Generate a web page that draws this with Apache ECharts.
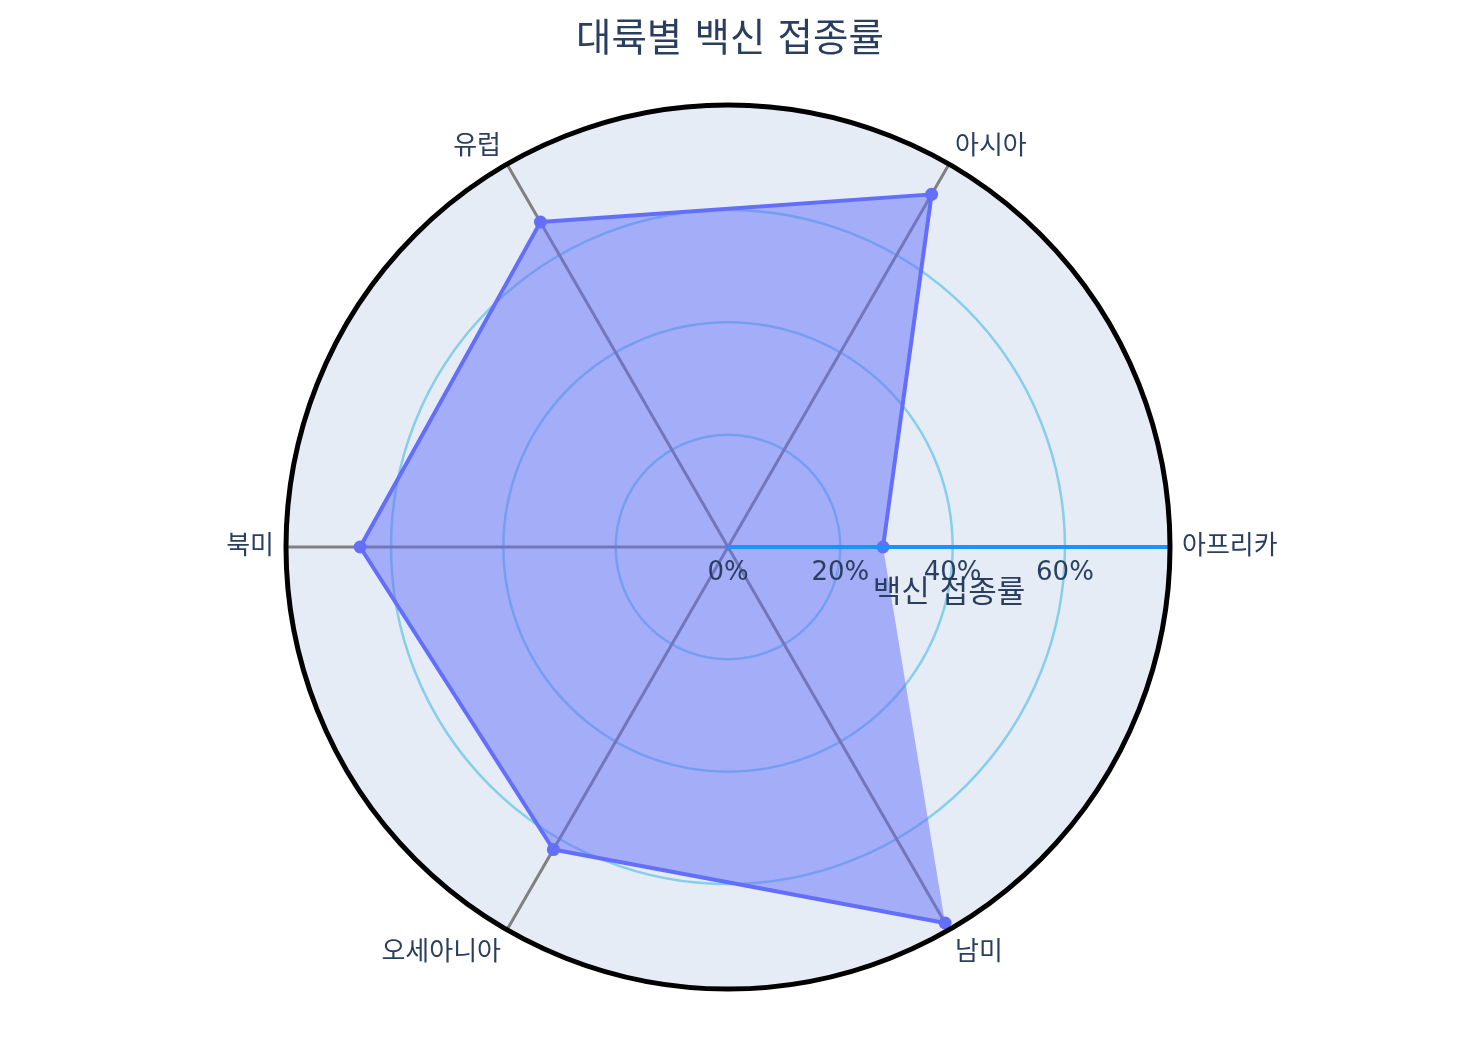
<!DOCTYPE html>
<html><head><meta charset="utf-8">
<script src="https://cdn.jsdelivr.net/npm/echarts@6/dist/echarts.min.js"></script>
<style>html,body{margin:0;padding:0;background:#fff}#c{width:1470px;height:1053px}</style>
</head><body><div id="c"></div>
<script>
const categories = ['아프리카', '아시아', '유럽', '북미', '오세아니아', '남미'];
const angles = [0, 60, 120, 180, 240, 300];
const vaccinationRates = [27.6, 72.5, 66.8, 65.5, 62.2, 77.3];
const radialTicks = [0, 20, 40, 60];
const radialMax = 78.7;
const titleText = '대륙별 백신 접종률';
const radialTitle = '백신 접종률';

const FONT = '"DejaVu Sans", "Noto Sans CJK KR", sans-serif';
const TXT = '#2a3f5f';
const points = vaccinationRates.map((v, i) => [v, angles[i]]);

const chart = echarts.init(document.getElementById('c'), null, { renderer: 'canvas' });
const P = { center: [728, 547], radius: 442 };
const hidden = { axisLine: { show: false }, axisTick: { show: false }, axisLabel: { show: false }, splitLine: { show: false } };
const angleBase = { type: 'value', min: 0, max: 360, interval: 60, startAngle: 0, clockwise: false };
const radBase = { type: 'value', min: 0, max: radialMax, interval: 20 };

function angleLabel(v) {
  const i = angles.indexOf(v);
  if (i < 0 || v >= 360) return '';
  if (v % 180 === 0) return '{s|' + categories[i] + '}';
  return (v < 180 ? '{u|' : '{d|') + categories[i] + '}';
}

const labelFont = { fontFamily: FONT, fontSize: 26, color: TXT };

const option = {
  backgroundColor: '#fff',
  animation: false,
  title: { text: titleText, left: 571, top: 17, textStyle: { fontFamily: FONT, fontSize: 38.5, fontWeight: 'normal', color: TXT } },
  polar: [Object.assign({}, P), Object.assign({}, P), Object.assign({}, P)],
  angleAxis: [
    Object.assign({}, angleBase, hidden, { polarIndex: 0, z: 0, splitArea: { show: true, areaStyle: { color: ['#E5ECF6'] } } }),
    Object.assign({}, angleBase, hidden, { polarIndex: 1, z: 1, splitLine: { show: true, lineStyle: { color: '#808080', width: 3 } } }),
    Object.assign({}, angleBase, hidden, {
      polarIndex: 2, z: 10,
      axisLine: { show: true, lineStyle: { color: '#000', width: 5 } },
      axisLabel: {
        show: true, margin: 12, showMaxLabel: false,
        formatter: angleLabel,
        rich: {
          s: Object.assign({}, labelFont),
          u: Object.assign({}, labelFont, { lineHeight: 14 }),
          d: Object.assign({}, labelFont)
        },
        fontFamily: FONT, fontSize: 26, color: TXT
      }
    })
  ],
  radiusAxis: [
    Object.assign({}, radBase, hidden, { polarIndex: 0, z: 0 }),
    Object.assign({}, radBase, hidden, { polarIndex: 1, z: 1, splitLine: { show: true, lineStyle: { color: '#87ceeb', width: 2.5 } } }),
    Object.assign({}, radBase, hidden, {
      polarIndex: 2, z: 10,
      axisLine: { show: true, lineStyle: { color: '#1e90ff', width: 4 } },
      axisLabel: {
        show: true, margin: -26, verticalAlign: 'middle', align: 'center', showMaxLabel: false,
        formatter: v => radialTicks.indexOf(v) >= 0 ? v + '%' : '',
        fontFamily: FONT, fontSize: 26, color: TXT
      },
      name: radialTitle, nameLocation: 'middle', nameGap: 31, nameMoveOverlap: false,
      nameTextStyle: { fontFamily: FONT, fontSize: 31, color: TXT }
    })
  ],
  series: [
    {
      type: 'custom', coordinateSystem: 'polar', polarIndex: 1, z: 2,
      data: points,
      renderItem: (params, api) => {
        if (params.dataIndex !== 0) return null;
        const pts = points.map(p => api.coord(p));
        return { type: 'polygon', shape: { points: pts }, style: { fill: 'rgba(99,110,250,0.5)', stroke: 'none' }, silent: true };
      }
    },
    {
      type: 'line', coordinateSystem: 'polar', polarIndex: 1, z: 3,
      data: points,
      symbol: 'circle', symbolSize: 13, showSymbol: true,
      lineStyle: { color: '#636efa', width: 4 },
      itemStyle: { color: '#636efa' },
      label: { show: false }
    }
  ]
};
chart.setOption(option);
</script></body></html>
